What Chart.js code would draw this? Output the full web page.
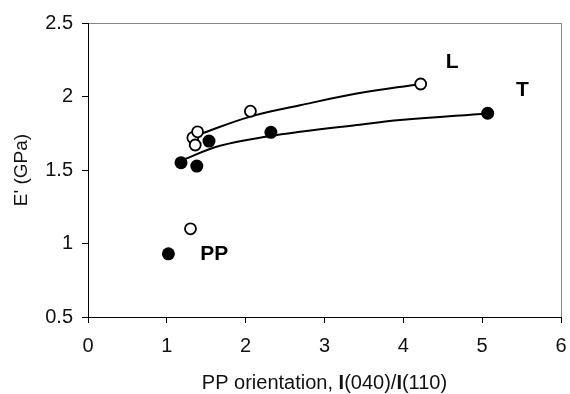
<!DOCTYPE html>
<html>
<head>
<meta charset="utf-8">
<script src="https://cdn.jsdelivr.net/npm/chart.js@4/dist/chart.umd.min.js"></script>
<style>
  html, body { margin: 0; padding: 0; background: #fff; overflow: hidden; }
  canvas { display: block; }
</style>
</head>
<body>
<canvas id="chart" width="570" height="394"></canvas>
<script>
// measured points
const lX = [1.30, 1.33, 1.36, 1.39, 2.06, 4.22]
const lY = [1.10, 1.72, 1.67, 1.76, 1.90, 2.085]
const tX = [1.02, 1.18, 1.38, 1.535, 2.32, 5.07]
const tY = [0.93, 1.55, 1.527, 1.697, 1.756, 1.886]

// trend curves
const lFitX = [1.40, 2.06, 2.69, 3.41, 4.22]
const lFitY = [1.74, 1.863, 1.94, 2.02, 2.085]
const tFitX = [1.20, 1.675, 2.31, 2.69, 3.41, 3.96, 5.07]
const tFitY = [1.568, 1.665, 1.731, 1.76, 1.806, 1.84, 1.885]

const yTicks = [0.5, 1, 1.5, 2, 2.5]
const xTicks = [0, 1, 2, 3, 4, 5, 6]

// curve labels (data coordinates)
const labelText = ["L", "T", "PP"]
const labelX = [4.62, 5.51, 1.60]
const labelY = [2.235, 2.04, 0.93]

const toPoints = (xs, ys) => xs.map((x, i) => ({ x: x, y: ys[i] }))

const FONT = "'Liberation Sans', Arial, sans-serif"

const extras = {
  id: "extras",
  afterDraw(chart) {
    const ctx = chart.ctx
    const xs = chart.scales.x
    const ys = chart.scales.y
    ctx.save()
    ctx.fillStyle = "#000"
    ctx.textAlign = "center"
    ctx.textBaseline = "middle"
    ctx.font = "bold 21px " + FONT
    labelText.forEach((t, i) => {
      ctx.fillText(t, xs.getPixelForValue(labelX[i]), ys.getPixelForValue(labelY[i]))
    })

    // x axis title with bold I's
    const parts = [
      ["PP orientation, ", false],
      ["I", true],
      ["(040)/", false],
      ["I", true],
      ["(110)", false]
    ]
    const normal = "20px " + FONT
    const bold = "bold 20px " + FONT
    let total = 0
    parts.forEach(p => {
      ctx.font = p[1] ? bold : normal
      total += ctx.measureText(p[0]).width
    })
    let x = (chart.chartArea.left + chart.chartArea.right) / 2 - total / 2
    ctx.textAlign = "left"
    ctx.fillStyle = "#111"
    parts.forEach(p => {
      ctx.font = p[1] ? bold : normal
      ctx.fillText(p[0], x, 383)
      x += ctx.measureText(p[0]).width
    })
    ctx.restore()
  }
}

new Chart(document.getElementById("chart"), {
  type: "scatter",
  data: {
    datasets: [
      {
        label: "L fit",
        data: toPoints(lFitX, lFitY),
        showLine: true,
        borderColor: "#000",
        borderWidth: 2,
        pointRadius: 0,
        tension: 0.4,
        order: 2
      },
      {
        label: "T fit",
        data: toPoints(tFitX, tFitY),
        showLine: true,
        borderColor: "#000",
        borderWidth: 2,
        pointRadius: 0,
        tension: 0.4,
        order: 2
      },
      {
        label: "L",
        data: toPoints(lX, lY),
        pointRadius: 5.5,
        pointBackgroundColor: "#fff",
        pointBorderColor: "#000",
        pointBorderWidth: 1.8,
        order: 1
      },
      {
        label: "T",
        data: toPoints(tX, tY),
        pointRadius: 6.5,
        pointBackgroundColor: "#000",
        pointBorderColor: "#000",
        pointBorderWidth: 0,
        order: 1
      }
    ]
  },
  options: {
    responsive: false,
    animation: false,
    layout: { padding: { top: 23, right: 9, left: 0, bottom: 0 } },
    plugins: {
      legend: { display: false },
      tooltip: { enabled: false }
    },
    scales: {
      x: {
        type: "linear",
        min: 0,
        max: 6,
        afterBuildTicks: s => { s.ticks = xTicks.map(v => ({ value: v })) },
        afterFit: s => {
          s.height = 77
          s.paddingLeft = 0
          s.paddingRight = 0
        },
        ticks: {
          color: "#111",
          font: { size: 20, family: FONT },
          padding: 11,
          maxRotation: 0,
          callback: v => String(v)
        },
        grid: {
          color: c => (c.tick && c.tick.value === 6 ? "#888" : "rgba(0,0,0,0)"),
          tickColor: "#000",
          tickLength: 6,
          lineWidth: 1
        },
        border: { color: "#000", width: 1 }
      },
      y: {
        type: "linear",
        min: 0.5,
        max: 2.5,
        afterBuildTicks: s => { s.ticks = yTicks.map(v => ({ value: v })) },
        afterFit: s => {
          s.width = 88
          s.paddingTop = 0
          s.paddingBottom = 0
        },
        title: {
          display: true,
          text: "E' (GPa)",
          color: "#111",
          font: { size: 19, family: FONT },
          padding: { top: 10, bottom: 0 }
        },
        ticks: {
          color: "#111",
          font: { size: 20, family: FONT },
          padding: 9,
          callback: v => String(v)
        },
        grid: {
          color: c => (c.tick && c.tick.value === 2.5 ? "#888" : "rgba(0,0,0,0)"),
          tickColor: "#000",
          tickLength: 6,
          lineWidth: 1
        },
        border: { color: "#000", width: 1 }
      }
    }
  },
  plugins: [extras]
})
</script>
</body>
</html>
